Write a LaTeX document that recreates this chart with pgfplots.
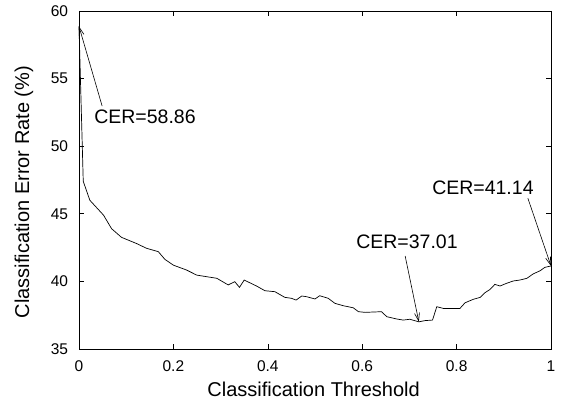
\documentclass[border=0pt]{standalone}
\usepackage{fontspec}
\setmainfont{Liberation Sans}
\usepackage{pgfplots}
\pgfplotsset{compat=1.18}
\usetikzlibrary{arrows.meta}

\begin{document}
\begin{tikzpicture}
% fix the page to the reference's frame: axis box is 472 x 338 at (79,11) in a 561 x 403 image
\useasboundingbox (-79bp,-54bp) rectangle (482bp,349bp);
\begin{axis}[
    at={(0,0)}, anchor=south west,
    width=472bp, height=338bp,
    scale only axis,
    xmin=0, xmax=1,
    ymin=35, ymax=60,
    xtick={0,0.2,0.4,0.6,0.8,1},
    ytick={35,40,45,50,55,60},
    xticklabels={0,0.2,0.4,0.6,0.8,1},
    tick align=inside,
    major tick length=5bp,
    tick style={black, line width=0.6bp},
    axis line style={line width=0.9bp},
    /pgf/number format/assume math mode=true,
    tick label style={font=\fontsize{15.5bp}{18bp}\selectfont},
    xticklabel style={anchor=center, inner sep=0pt, yshift=-17bp},
    yticklabel style={anchor=east, inner sep=0pt, xshift=-10.7bp},
    label style={font=\fontsize{20bp}{24bp}\selectfont},
    xlabel={Classification Threshold},
    ylabel={Classification Error Rate (\%)},
    xlabel style={at={(axis description cs:0.497,0)}, anchor=center, inner sep=0pt, yshift=-40bp},
    ylabel style={at={(axis description cs:-0.1165,0.4645)}, anchor=center, inner sep=0pt},
    clip=false,
]
\addplot[black, line width=0.7bp] coordinates {
    (0,58.86) (0.009,47.4) (0.023,46.0) (0.052,44.9) (0.069,43.9)
    (0.090,43.26) (0.122,42.8) (0.143,42.45) (0.168,42.2) (0.182,41.63)
    (0.2,41.2) (0.228,40.84) (0.249,40.47) (0.27,40.35) (0.292,40.23)
    (0.316,39.74) (0.33,39.98) (0.34,39.56) (0.35,40.1) (0.376,39.66)
    (0.394,39.31) (0.415,39.24) (0.436,38.82) (0.45,38.75) (0.46,38.62)
    (0.472,38.92) (0.482,38.87) (0.5,38.7) (0.51,38.94) (0.528,38.75)
    (0.542,38.38) (0.56,38.2) (0.581,38.05) (0.592,37.76) (0.606,37.71)
    (0.641,37.76) (0.652,37.39) (0.673,37.22) (0.687,37.14) (0.701,37.2)
    (0.72,37.01) (0.733,37.1) (0.749,37.14) (0.758,38.13) (0.772,38.0)
    (0.807,38.0) (0.818,38.42) (0.835,38.67) (0.85,38.82) (0.86,39.16)
    (0.871,39.41) (0.881,39.78) (0.892,39.66) (0.906,39.86) (0.92,40.03)
    (0.934,40.1) (0.949,40.23) (0.962,40.55) (0.977,40.79) (0.987,41.04)
    (1,41.14)
};
% annotations
\draw[line width=0.6bp, -{Straight Barb[length=8bp,width=5bp]}] (axis cs:0.049,52.97) -- (axis cs:0,58.86);
\draw[line width=0.6bp, -{Straight Barb[length=8bp,width=5bp]}] (axis cs:0.691,41.88) -- (axis cs:0.72,37.01);
\draw[line width=0.6bp, -{Straight Barb[length=8bp,width=5bp]}] (axis cs:0.951,46.15) -- (axis cs:1,41.14);
\node[anchor=west, inner sep=0pt, font=\fontsize{19.5bp}{22bp}\selectfont] at (axis cs:0.032,52.16) {CER=58.86};
\node[anchor=west, inner sep=0pt, font=\fontsize{19.5bp}{22bp}\selectfont] at (axis cs:0.587,42.94) {CER=37.01};
\node[anchor=west, inner sep=0pt, font=\fontsize{19.5bp}{22bp}\selectfont] at (axis cs:0.748,46.95) {CER=41.14};
\end{axis}
\end{tikzpicture}
\end{document}
